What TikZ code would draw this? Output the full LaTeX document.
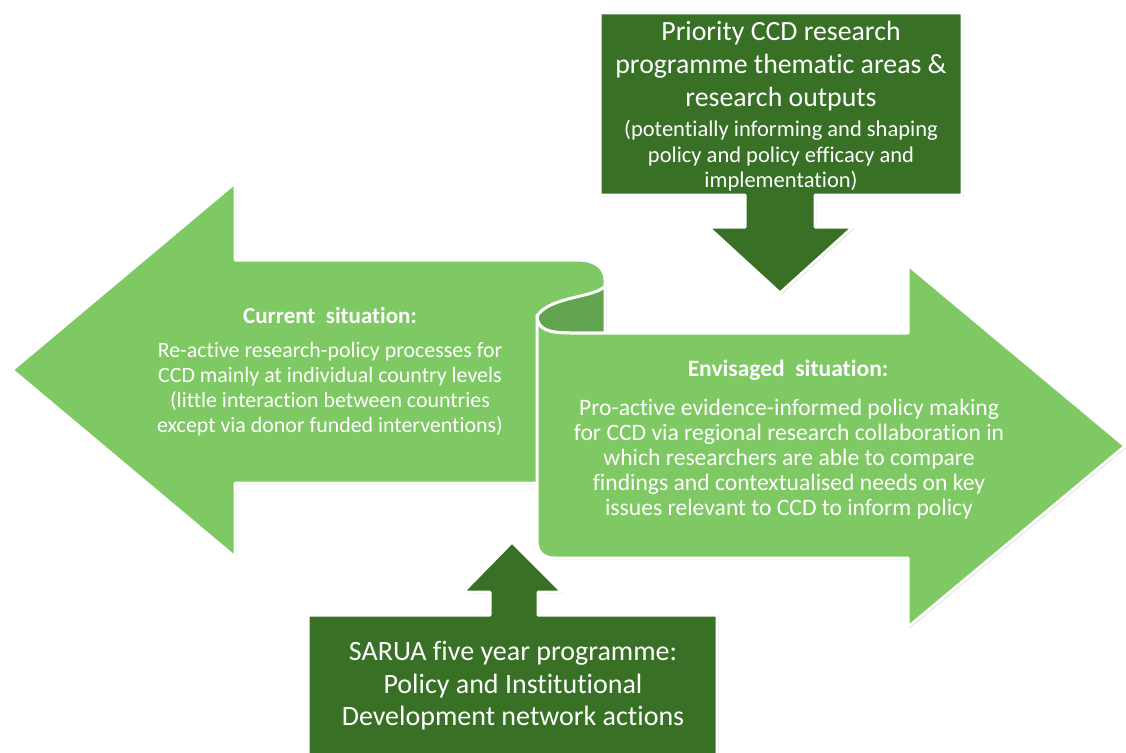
\documentclass[tikz,border=0pt]{standalone}
\usepackage{fontspec}
\setmainfont[Ligatures=NoCommon]{Carlito}
\usetikzlibrary{positioning,calc,shadows}
\definecolor{leafgreen}{RGB}{126,201,99}
\definecolor{curlgreen}{RGB}{99,164,81}
\definecolor{forestgreen}{RGB}{56,112,38}

\begin{document}
\begin{tikzpicture}[x=1pt,y=-1pt,
    blockarrow/.style={draw=white,line width=3pt,line join=round,
        drop shadow={shadow xshift=1.5pt,shadow yshift=-1.5pt,opacity=0.18,fill=black}},
    boxtext/.style={text=white,align=center,inner sep=0pt},
    bigtext/.style={boxtext,font=\fontsize{27.8}{33}\selectfont}]
    \useasboundingbox (0,0) rectangle (1126,752);
    \clip (0,0) rectangle (1126,752);
    \path[blockarrow,fill=leafgreen] (12,370) -- (235,183) -- (235,260) -- (578,260) .. controls (595,260) and (605,268) .. (605,280) -- (605,483) -- (235,483) -- (235,557) -- cycle;
    \path[blockarrow,fill=curlgreen] (605,286) .. controls (595,298) and (550,296) .. (537,316) .. controls (537,330) and (550,333) .. (570,333) -- (605,333) -- cycle;
    \path[blockarrow,fill=leafgreen] (537,316) -- (537,540) .. controls (537,552) and (543,558) .. (555,558) -- (908,558) -- (908,627) -- (1125,446) -- (908,265) -- (908,333) -- (570,333) .. controls (550,333) and (537,330) .. (537,316) -- cycle;
    \path[blockarrow,fill=forestgreen] (600,13) -- (962,13) -- (962,195) -- (815,195) -- (815,227) -- (853,227) -- (780,293) -- (708,227) -- (745,227) -- (745,195) -- (600,195) -- cycle;
    \path[blockarrow,fill=forestgreen] (308,770) -- (308,615) -- (490,615) -- (490,592) -- (463,592) -- (512,542) -- (562,592) -- (538,592) -- (538,615) -- (717,615) -- (717,770) -- cycle;
    \node[bigtext] (priority) at (781,66) {Priority CCD research\\programme thematic areas \&\\research outputs};
    \node[boxtext,font=\fontsize{22.5}{25.5}\selectfont] (priorityNote) at (781,156) {(potentially informing and shaping\\policy and policy efficacy and\\implementation)};
    \node[boxtext,font=\fontsize{23}{25}\selectfont\bfseries] (current) at (330,316) {Current\ \ situation:};
    \node[boxtext,font=\fontsize{21.9}{25}\selectfont] (currentBody) at (330,389) {Re-active research-policy processes for\\CCD mainly at individual country levels\\(little interaction between countries\\except via donor funded interventions)};
    \node[boxtext,font=\fontsize{23.5}{25}\selectfont\bfseries] (envisaged) at (788,370) {Envisaged\ \ situation:};
    \node[boxtext,font=\fontsize{23.6}{25}\selectfont] (envisagedBody) at (789,459) {Pro-active evidence-informed policy making\\for CCD via regional research collaboration in\\which researchers are able to compare\\findings and contextualised needs on key\\issues relevant to CCD to inform policy};
    \node[boxtext,font=\fontsize{28}{32.5}\selectfont] (sarua) at (513,686) {SARUA five year programme:\\Policy and Institutional\\Development network actions};
\end{tikzpicture}
\end{document}
